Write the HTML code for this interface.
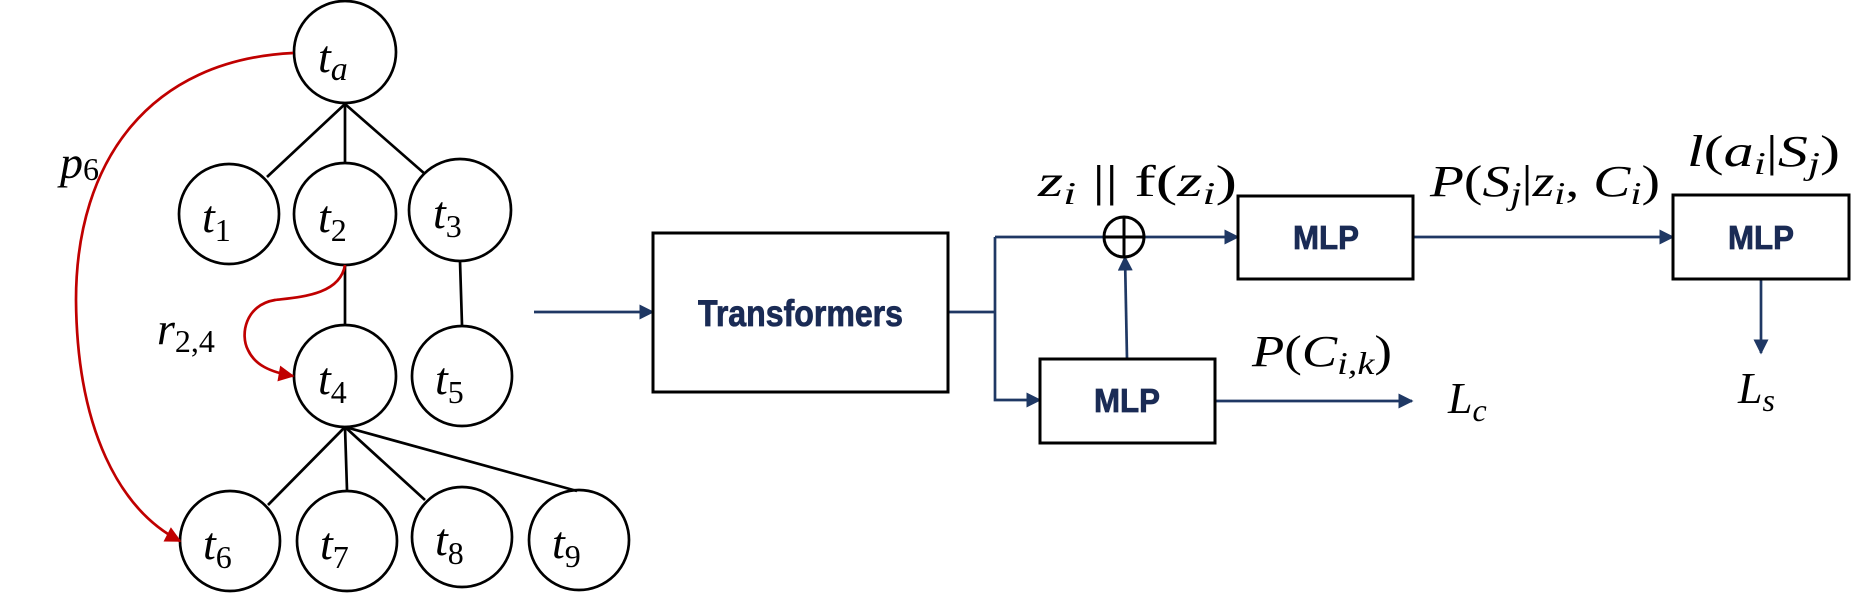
<!DOCTYPE html>
<html><head><meta charset="utf-8"><style>html,body{margin:0;padding:0;background:#fff;}svg{display:block}</style></head>
<body>
<svg width="1872" height="594" viewBox="0 0 1872 594" xmlns="http://www.w3.org/2000/svg">
<defs>
<marker id="red" viewBox="0 0 10 10" refX="9" refY="5" markerWidth="18" markerHeight="16" markerUnits="userSpaceOnUse" orient="auto"><path d="M0,0L10,5L0,10z" fill="#c00000"/></marker>
<marker id="blue" viewBox="0 0 10 10" refX="9" refY="5" markerWidth="16" markerHeight="15" markerUnits="userSpaceOnUse" orient="auto"><path d="M0,0L10,5L0,10z" fill="#1f3864"/></marker>
</defs>
<g stroke="#000" stroke-width="2.7" fill="none">
<line x1="345" y1="104" x2="267" y2="177"/>
<line x1="345" y1="104" x2="345" y2="164"/>
<line x1="345" y1="104" x2="425" y2="174"/>
<line x1="345" y1="265" x2="345" y2="326"/>
<line x1="460" y1="261" x2="462" y2="325"/>
<line x1="345" y1="427" x2="268" y2="505"/>
<line x1="345" y1="427" x2="347" y2="490"/>
<line x1="345" y1="427" x2="425" y2="500"/>
<line x1="345" y1="427" x2="577" y2="491"/>
<circle cx="345" cy="52" r="51"/>
<circle cx="229" cy="214" r="50"/>
<circle cx="345" cy="214" r="51"/>
<circle cx="460" cy="210" r="51"/>
<circle cx="345" cy="376" r="51"/>
<circle cx="462" cy="376" r="50"/>
<circle cx="230" cy="541" r="50"/>
<circle cx="347" cy="541" r="50"/>
<circle cx="462" cy="537" r="50"/>
<circle cx="579" cy="540" r="50"/>
</g>
<g font-family="'Liberation Serif',serif" font-size="46" fill="#000">
<text x="318" y="72" font-style="italic">t<tspan font-size="34" dy="8">a</tspan></text>
<text x="202" y="232" font-style="italic">t<tspan font-size="32" dy="9" font-style="normal">1</tspan></text>
<text x="318" y="232" font-style="italic">t<tspan font-size="32" dy="9" font-style="normal">2</tspan></text>
<text x="433" y="228" font-style="italic">t<tspan font-size="32" dy="9" font-style="normal">3</tspan></text>
<text x="318" y="394" font-style="italic">t<tspan font-size="32" dy="9" font-style="normal">4</tspan></text>
<text x="435" y="394" font-style="italic">t<tspan font-size="32" dy="9" font-style="normal">5</tspan></text>
<text x="203" y="559" font-style="italic">t<tspan font-size="32" dy="9" font-style="normal">6</tspan></text>
<text x="320" y="559" font-style="italic">t<tspan font-size="32" dy="9" font-style="normal">7</tspan></text>
<text x="435" y="555" font-style="italic">t<tspan font-size="32" dy="9" font-style="normal">8</tspan></text>
<text x="552" y="558" font-style="italic">t<tspan font-size="32" dy="9" font-style="normal">9</tspan></text>
<text x="60" y="178" font-style="italic">p<tspan font-size="32" dy="2" font-style="normal">6</tspan></text>
<text x="157" y="344" font-style="italic">r<tspan font-size="32" dy="8" font-style="normal">2,4</tspan></text>
</g>
<g stroke="#c00000" stroke-width="2.7" fill="none">
<path d="M293,53 C150,60 76,160 76,300 C77,430 120,510 180,541" marker-end="url(#red)"/>
<path d="M345,265 C340,295 300,297 275,300 C245,305 240,335 248,350 C255,365 270,372 293,376" marker-end="url(#red)"/>
</g>
<g stroke="#1f3864" stroke-width="2.7" fill="none">
<line x1="534" y1="312" x2="653" y2="312" marker-end="url(#blue)"/>
<polyline points="948,312 995,312"/>
<polyline points="995,237 995,400 1040,400" marker-end="url(#blue)"/>
<line x1="995" y1="237" x2="1104" y2="237"/>
<line x1="1144" y1="237" x2="1238" y2="237" marker-end="url(#blue)"/>
<line x1="1127" y1="359" x2="1125" y2="257" marker-end="url(#blue)"/>
<line x1="1215" y1="401" x2="1412" y2="401" marker-end="url(#blue)"/>
<line x1="1413" y1="237" x2="1673" y2="237" marker-end="url(#blue)"/>
<line x1="1761" y1="279" x2="1761" y2="353" marker-end="url(#blue)"/>
</g>
<g stroke="#000" stroke-width="3" fill="none">
<rect x="653" y="233" width="295" height="159"/>
<rect x="1040" y="359" width="175" height="84"/>
<rect x="1238" y="196" width="175" height="83"/>
<rect x="1673" y="195" width="176" height="84"/>
<circle cx="1124" cy="237" r="20"/>
<line x1="1104" y1="237" x2="1144" y2="237"/>
<line x1="1124" y1="217" x2="1124" y2="257"/>
</g>
<g font-family="'Liberation Sans',sans-serif" font-weight="bold" fill="#1a2b55" stroke="#1a2b55" stroke-width="0.8">
<text x="698" y="326" font-size="37" textLength="205" lengthAdjust="spacingAndGlyphs">Transformers</text>
<text x="1094" y="412" font-size="33" textLength="66" lengthAdjust="spacingAndGlyphs">MLP</text>
<text x="1293" y="249" font-size="33" textLength="66" lengthAdjust="spacingAndGlyphs">MLP</text>
<text x="1728" y="249" font-size="33" textLength="66" lengthAdjust="spacingAndGlyphs">MLP</text>
</g>
<g font-family="'Liberation Serif',serif" font-size="44" fill="#000">
<text x="1038" y="196" textLength="199" lengthAdjust="spacingAndGlyphs"><tspan font-style="italic">z</tspan><tspan font-size="32" dy="8" font-style="italic">i</tspan><tspan dy="-8"> || f(</tspan><tspan font-style="italic">z</tspan><tspan font-size="32" dy="8" font-style="italic">i</tspan><tspan dy="-8">)</tspan></text>
<text x="1430" y="196" textLength="230" lengthAdjust="spacingAndGlyphs"><tspan font-style="italic">P</tspan>(<tspan font-style="italic">S</tspan><tspan font-size="32" dy="8" font-style="italic">j</tspan><tspan dy="-8">|</tspan><tspan font-style="italic">z</tspan><tspan font-size="32" dy="8" font-style="italic">i</tspan><tspan dy="-8">, </tspan><tspan font-style="italic">C</tspan><tspan font-size="32" dy="8" font-style="italic">i</tspan><tspan dy="-8">)</tspan></text>
<text x="1687" y="166" textLength="153" lengthAdjust="spacingAndGlyphs"><tspan font-style="italic">l</tspan>(<tspan font-style="italic">a</tspan><tspan font-size="32" dy="8" font-style="italic">i</tspan><tspan dy="-8">|</tspan><tspan font-style="italic">S</tspan><tspan font-size="32" dy="8" font-style="italic">j</tspan><tspan dy="-8">)</tspan></text>
<text x="1252" y="366" textLength="140" lengthAdjust="spacingAndGlyphs"><tspan font-style="italic">P</tspan>(<tspan font-style="italic">C</tspan><tspan font-size="32" dy="8" font-style="italic">i,k</tspan><tspan dy="-8">)</tspan></text>
<text x="1448" y="413" font-style="italic">L<tspan font-size="32" dy="8">c</tspan></text>
<text x="1738" y="403" font-style="italic">L<tspan font-size="32" dy="8">s</tspan></text>
</g>
</svg>
</body></html>
